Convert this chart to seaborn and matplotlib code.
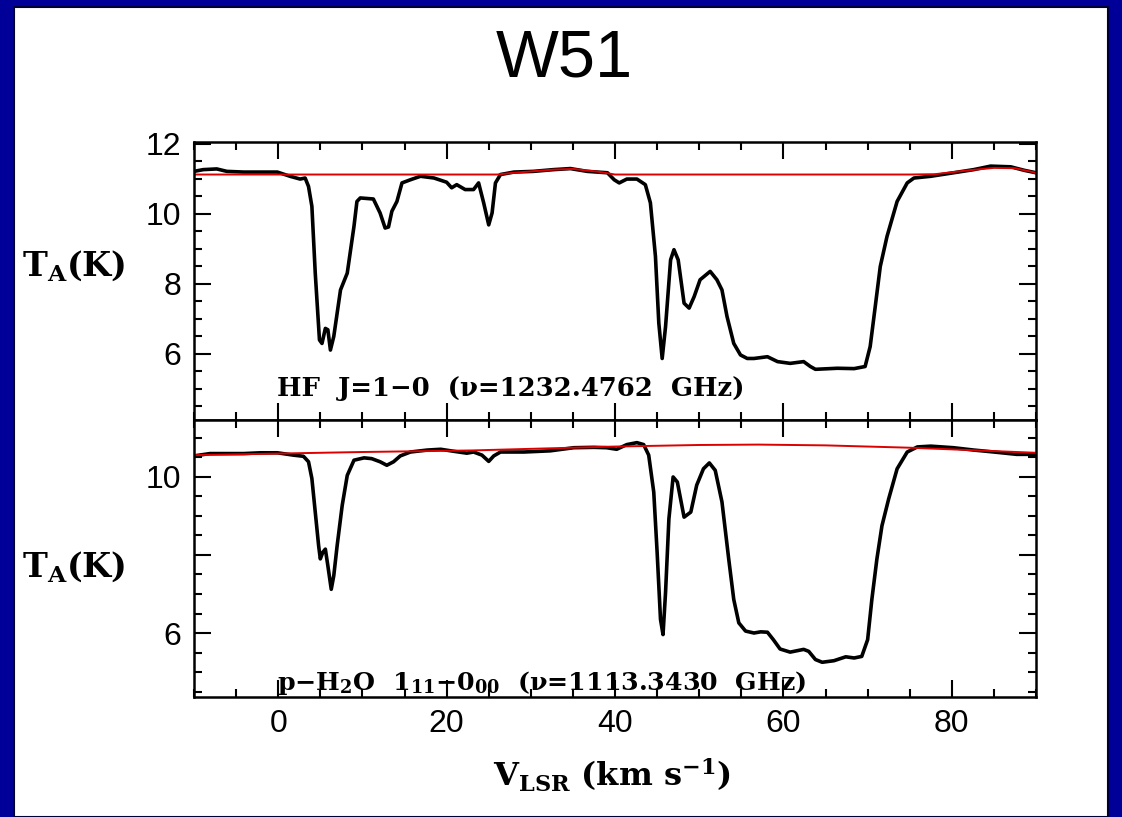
import matplotlib
matplotlib.use("Agg")
import matplotlib.pyplot as plt
from matplotlib.patches import Rectangle
from matplotlib.ticker import MultipleLocator
import pandas as pd
import seaborn as sns

# HF J=1-0 spectrum towards W51 (V_LSR in km/s, T_A in K)
hf_v = [-10, -8.9, -7.3, -6.1, -4.1, -2.1, -0.1, 1.4, 2.6, 3.2, 3.6, 4.0, 4.4, 4.9, 5.2,
        5.6, 5.9, 6.2, 6.6, 7.4, 8.2, 8.6, 9.0, 9.35, 9.75, 11.3, 12.1, 12.7, 13.1, 13.5,
        14.1, 14.7, 15.7, 16.9, 18.5, 20.0, 20.6, 21.2, 22.2, 23.2, 23.8, 24.4, 25.0, 25.4,
        25.8, 26.4, 28.0, 30.3, 32.7, 34.7, 36.7, 39.1, 39.9, 40.5, 41.4, 42.6, 43.6, 44.2,
        44.8, 45.2, 45.6, 46.0, 46.6, 47.0, 47.5, 48.2, 48.8, 49.4, 50.1, 51.3, 52.1, 52.7,
        53.3, 54.1, 54.9, 55.7, 56.5, 58.1, 59.3, 60.8, 62.4, 63.2, 63.8, 66.4, 68.4, 69.7,
        70.3, 70.9, 71.5, 72.3, 73.5, 74.7, 75.5, 77.5, 80.2, 82.6, 84.6, 87.0, 88.6, 90.0]
hf_t = [11.21, 11.26, 11.28, 11.21, 11.19, 11.19, 11.19, 11.07, 10.99, 11.02, 10.78, 10.21,
        8.30, 6.39, 6.29, 6.72, 6.68, 6.10, 6.49, 7.82, 8.30, 8.97, 9.64, 10.35, 10.45, 10.42,
        10.02, 9.59, 9.62, 10.07, 10.35, 10.88, 10.97, 11.07, 11.02, 10.90, 10.74, 10.83,
        10.69, 10.69, 10.88, 10.31, 9.68, 10.02, 10.88, 11.12, 11.19, 11.21, 11.26, 11.29,
        11.21, 11.17, 10.97, 10.88, 10.99, 10.99, 10.83, 10.31, 8.78, 6.87, 5.86, 6.77, 8.68,
        8.97, 8.68, 7.44, 7.30, 7.63, 8.11, 8.35, 8.11, 7.82, 7.06, 6.29, 5.96, 5.86, 5.86,
        5.91, 5.77, 5.72, 5.77, 5.63, 5.55, 5.58, 5.57, 5.63, 6.20, 7.34, 8.49, 9.35, 10.35,
        10.88, 11.02, 11.07, 11.17, 11.26, 11.36, 11.34, 11.24, 11.17]
hf_base_v = [-10, 26.0, 28.0, 32.7, 35.0, 38.0, 40.0, 75.0, 78.0, 82.0, 85.0, 87.5, 90.0]
hf_base_t = [11.12, 11.12, 11.17, 11.26, 11.28, 11.20, 11.12, 11.12, 11.13, 11.24, 11.31,
             11.30, 11.17]

# p-H2O 1_11-0_00 spectrum
h2o_v = [-10, -8.1, -6.1, -4.1, -2.1, -0.1, 1.8, 3.0, 3.6, 4.0, 4.4, 4.8, 5.0, 5.3, 5.6,
         5.9, 6.3, 6.6, 7.0, 7.6, 8.2, 9.0, 10.2, 11.1, 12.1, 12.9, 13.7, 14.5, 15.7, 17.7,
         19.3, 20.8, 22.4, 23.2, 24.2, 25.0, 25.6, 26.4, 29.2, 32.3, 35.1, 37.5, 39.0, 40.2,
         41.4, 42.6, 43.4, 44.0, 44.6, 45.0, 45.4, 45.7, 46.0, 46.4, 46.9, 47.4, 48.2, 49.0,
         49.7, 50.5, 51.2, 51.9, 52.7, 53.5, 54.1, 54.7, 55.5, 56.5, 57.3, 58.1, 58.8, 59.6,
         60.8, 62.4, 63.0, 63.8, 64.6, 66.0, 67.4, 68.4, 69.3, 70.0, 70.5, 71.1, 71.7, 72.5,
         73.5, 74.7, 75.9, 77.5, 80.2, 82.6, 85.0, 87.7, 90.0]
h2o_t = [10.54, 10.60, 10.60, 10.60, 10.62, 10.62, 10.56, 10.53, 10.39, 9.96, 9.10, 8.24,
         7.90, 8.07, 8.15, 7.72, 7.12, 7.47, 8.24, 9.27, 10.04, 10.43, 10.49, 10.47, 10.39,
         10.30, 10.39, 10.54, 10.64, 10.69, 10.71, 10.66, 10.61, 10.64, 10.56, 10.40, 10.54,
         10.64, 10.64, 10.67, 10.75, 10.76, 10.75, 10.71, 10.83, 10.88, 10.83, 10.56, 9.61,
         8.07, 6.35, 5.96, 7.04, 8.93, 10.00, 9.87, 8.97, 9.10, 9.79, 10.21, 10.36, 10.17,
         9.36, 7.90, 6.86, 6.26, 6.05, 6.00, 6.03, 6.02, 5.83, 5.59, 5.51, 5.58, 5.53, 5.32,
         5.25, 5.29, 5.39, 5.36, 5.40, 5.83, 6.86, 7.90, 8.75, 9.44, 10.21, 10.64, 10.77,
         10.79, 10.75, 10.69, 10.64, 10.58, 10.58]
h2o_base_v = [-10, 0, 10, 23, 40, 50, 57, 65, 75, 82, 90]
h2o_base_t = [10.56, 10.60, 10.64, 10.68, 10.78, 10.82, 10.83, 10.81, 10.75, 10.69, 10.62]

hf = pd.DataFrame({"v": hf_v, "T": hf_t})
hf_base = pd.DataFrame({"v": hf_base_v, "T": hf_base_t})
h2o = pd.DataFrame({"v": h2o_v, "T": h2o_t})
h2o_base = pd.DataFrame({"v": h2o_base_v, "T": h2o_base_t})

sns.set_theme(style="ticks")
plt.rcParams["font.family"] = ["Liberation Sans", "DejaVu Sans"]
plt.rcParams["mathtext.fontset"] = "custom"
plt.rcParams["mathtext.rm"] = "DejaVu Serif:bold"
plt.rcParams["mathtext.it"] = "DejaVu Serif:italic:bold"
plt.rcParams["mathtext.bf"] = "DejaVu Serif:bold"
plt.rcParams["mathtext.default"] = "rm"

fig = plt.figure(figsize=(11.22, 8.17), dpi=100, facecolor="#000099")
# white slide area inside the navy frame
fig.patches.append(Rectangle((0.0125, 0.0), 0.975, 0.9914, transform=fig.transFigure,
                             facecolor="white", edgecolor="#000033", linewidth=1.5,
                             zorder=-10))
fig.text(0.503, 0.927, "W51", fontsize=48, ha="center", va="center", color="black")

ax_top = fig.add_axes([0.1729, 0.4859, 0.7505, 0.3403])
ax_bot = fig.add_axes([0.1729, 0.1469, 0.7505, 0.3390])

panels = [
    (ax_top, hf, hf_base, (4.1, 12.05), [6, 8, 10, 12], ["6", "8", "10", "12"]),
    (ax_bot, h2o, h2o_base, (4.36, 11.46), [6, 8, 10], ["6", "", "10"]),
]
serif = dict(family="DejaVu Serif", weight="bold", color="black")

for ax, spec, base, ylim, yticks, ylabels in panels:
    ax.set_facecolor("white")
    sns.lineplot(data=spec, x="v", y="T", ax=ax, color="black", linewidth=2.6,
                 estimator=None, errorbar=None)
    sns.lineplot(data=base, x="v", y="T", ax=ax, color="#dd0000", linewidth=1.4,
                 estimator=None, errorbar=None)
    ax.set_xlim(-10, 90)
    ax.set_ylim(*ylim)
    ax.set_yticks(yticks, labels=ylabels)
    ax.xaxis.set_major_locator(MultipleLocator(20))
    ax.xaxis.set_minor_locator(MultipleLocator(5))
    ax.yaxis.set_minor_locator(MultipleLocator(0.5))
    ax.tick_params(which="both", direction="in", top=True, right=True, width=1.5,
                   color="black", labelcolor="black")
    ax.tick_params(which="major", length=12, labelsize=23, pad=9)
    ax.tick_params(which="minor", length=6)
    for spine in ax.spines.values():
        spine.set_linewidth(1.8)
        spine.set_color("black")
    ax.set_xlabel("")
    ax.set_ylabel("$T_{A}$(K)", rotation=0, fontsize=24, **serif)
    ax.yaxis.label.set_va("center")

ax_top.yaxis.set_label_coords(-0.1425, 0.554)
ax_bot.yaxis.set_label_coords(-0.1425, 0.469)
ax_top.tick_params(labelbottom=False)

ax_bot.set_xlabel("$V_{LSR}$ (km s$^{-1}$)", fontsize=23, **serif)
ax_bot.xaxis.label.set_va("center")
ax_bot.xaxis.set_label_coords(0.496, -0.285)

ax_top.text(0.0986, 0.086, "HF  J=1\u22120  (\u03bd=1232.4762  GHz)", transform=ax_top.transAxes,
            fontsize=18.6, va="baseline", ha="left", **serif)
ax_bot.text(0.0986, 0.027, "p\u2212H$_2$O  1$_{11}$\u22120$_{00}$  (\u03bd=1113.3430  GHz)",
            transform=ax_bot.transAxes, fontsize=18.2, va="baseline", ha="left", **serif)

fig.savefig("out.png", dpi=100, facecolor=fig.get_facecolor())
